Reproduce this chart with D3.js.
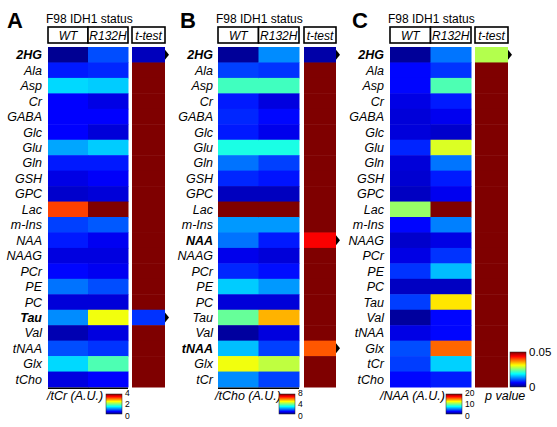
<!DOCTYPE html>
<html><head><meta charset="utf-8">
<script src="https://cdn.jsdelivr.net/npm/d3@7"></script>
<style>body{margin:0;background:#fff}svg{display:block}text{font-family:"Liberation Sans",Arial,sans-serif}</style>
</head><body><svg id="c" width="557" height="427"></svg>
<script>
// ---------- data ----------
const groups = ["WT", "R132H"];
const rowsA = ["2HG","Ala","Asp","Cr","GABA","Glc","Glu","Gln","GSH","GPC","Lac","m-Ins","NAA","NAAG","PCr","PE","PC","Tau","Val","tNAA","Glx","tCho"];
const wtA   = [0.08,0.6,1.35,0.5,0.5,0.5,1.15,0.6,0.4,0.3,3.25,0.75,0.6,0.38,0.52,0.95,0.35,1.05,0.2,0.8,1.35,0.38];
const mutA  = [0.8,0.65,1.3,0.4,0.5,0.35,1.3,0.6,0.48,0.35,4.0,0.85,0.45,0.38,0.45,0.8,0.35,2.45,0.38,0.7,1.8,0.5];
const pA    = [0.003,0.05,0.05,0.05,0.05,0.05,0.05,0.05,0.05,0.05,0.05,0.05,0.05,0.05,0.05,0.05,0.05,0.0087,0.05,0.05,0.05,0.05];

const rowsB = ["2HG","Ala","Asp","Cr","GABA","Glc","Glu","Gln","GSH","GPC","Lac","m-Ins","NAA","NAAG","PCr","PE","PC","Tau","Val","tNAA","Glx","tCr"];
const wtB   = [0.2,1.5,3.5,1.2,1.3,1.2,3.2,1.9,1.3,0.5,8.0,2.2,1.9,0.85,1.3,2.6,0.7,3.8,0.25,2.5,4.9,2.1];
const mutB  = [2.1,1.4,3.5,0.75,1.05,0.85,3.2,1.5,1.15,0.5,8.0,2.2,1.2,0.7,1.1,2.2,0.7,5.6,0.75,1.5,4.5,1.5];
const pB    = [0.002,0.05,0.05,0.05,0.05,0.05,0.05,0.05,0.05,0.05,0.05,0.05,0.044,0.05,0.05,0.05,0.05,0.05,0.05,0.0395,0.05,0.05];

const rowsC = ["2HG","Ala","Asp","Cr","GABA","Glc","Glu","Gln","GSH","GPC","Lac","m-Ins","NAAG","PCr","PE","PC","Tau","Val","tNAA","Glx","tCr","tCho"];
const wtC   = [0.5,2.6,2.6,2.0,1.75,1.8,3.2,1.75,1.6,1.3,10.5,2.6,1.5,2.0,3.5,1.3,3.7,0.6,2.0,4.0,3.7,2.6];
const mutC  = [4.8,3.5,9.0,3.0,2.2,1.5,11.8,4.8,3.0,2.2,20.0,5.0,2.0,3.5,6.2,1.3,13.0,2.6,2.6,15.5,6.6,3.0];
const pC    = [0.0275,0.05,0.05,0.05,0.05,0.05,0.05,0.05,0.05,0.05,0.05,0.05,0.05,0.05,0.05,0.05,0.05,0.05,0.05,0.05,0.05,0.05];

const ticksA = [0, 2, 4], ticksB = [0, 4, 8], ticksC = [0, 10, 20], ticksP = [0, 0.05];
const pMax = 0.05;

// ---------- layout ----------
const panels = [
  {letter:"A", lx:7,   hx0:48,  hx1:128, tx0:132, tx1:165, labR:42,  cbx:106, ux:47,  line:true,  unit:"/tCr (A.U.)",  rows:rowsA, wt:wtA, mut:mutA, p:pA, ticks:ticksA},
  {letter:"B", lx:180, hx0:218, hx1:299, tx0:304, tx1:336, labR:213, cbx:279, ux:215, line:true,  unit:"/tCho (A.U.)", rows:rowsB, wt:wtB, mut:mutB, p:pB, ticks:ticksB},
  {letter:"C", lx:352, hx0:390, hx1:471, tx0:475, tx1:508, labR:384, cbx:446, ux:380, line:false, unit:"/NAA (A.U.)",  rows:rowsC, wt:wtC, mut:mutC, p:pC, ticks:ticksC}
];
const yTop = 47, yBot = 387;

const jetStops = ["#00007f","#0000ff","#00ffff","#ffff00","#ff0000","#7f0000"];
const jetPos = [0, .125, .375, .625, .875, 1];
function jet(max){ return d3.scaleLinear().domain(jetPos.map(v=>v*max)).range(jetStops).clamp(true); }

const svg = d3.select("#c");
const defs = svg.append("defs");
const grad = defs.append("linearGradient").attr("id","jetg").attr("x1",0).attr("y1",1).attr("x2",0).attr("y2",0);
jetPos.forEach((p,i)=>grad.append("stop").attr("offset",p).attr("stop-color",jetStops[i]));

panels.forEach(P => {
  const g = svg.append("g");
  const max = d3.max(P.ticks);
  const color = jet(max), pcolor = jet(pMax);
  const y = d3.scaleBand().domain(P.rows).range([yTop, yBot]);
  const x = d3.scaleBand().domain(groups).range([P.hx0, P.hx1]);

  g.append("text").attr("x",P.lx).attr("y",28).attr("font-size",22).attr("font-weight","bold").text(P.letter);
  g.append("text").attr("x",P.hx0-2).attr("y",23).attr("font-size",12).text("F98 IDH1 status");

  groups.forEach(gr => {
    g.append("rect").attr("x",x(gr)).attr("y",27).attr("width",x.bandwidth()).attr("height",16)
      .attr("fill","#fff").attr("stroke","#000").attr("stroke-width",1.6);
    g.append("text").attr("x",x(gr)+x.bandwidth()/2).attr("y",39.5).attr("text-anchor","middle")
      .attr("font-size",12).attr("font-style","italic").text(gr);
  });
  g.append("rect").attr("x",P.tx0).attr("y",27).attr("width",P.tx1-P.tx0).attr("height",16)
    .attr("fill","#fff").attr("stroke","#000").attr("stroke-width",1.6);
  g.append("text").attr("x",(P.tx0+P.tx1)/2).attr("y",39.5).attr("text-anchor","middle")
    .attr("font-size",12).attr("font-style","italic").text("t-test");

  const vals = [P.wt, P.mut];
  groups.forEach((gr, gi) => {
    g.selectAll(null).data(P.rows).join("rect")
      .attr("x", x(gr)).attr("y", d => y(d)).attr("width", x.bandwidth()+0.5).attr("height", y.bandwidth()+0.5)
      .attr("fill", (d,i) => color(vals[gi][i]));
  });
  g.selectAll(null).data(P.rows).join("rect")
    .attr("x", P.tx0).attr("y", d => y(d)).attr("width", P.tx1-P.tx0).attr("height", y.bandwidth()+0.5)
    .attr("fill", (d,i) => pcolor(P.p[i]));

  g.selectAll(null).data(P.rows).join("text")
    .attr("x", P.labR).attr("y", d => y(d)+y.bandwidth()/2+4.5).attr("text-anchor","end")
    .attr("font-size",12.5).attr("font-style","italic")
    .attr("font-weight",(d,i)=>P.p[i]<pMax?"bold":"normal").text(d=>d);

  const sig = P.rows.filter((d,i)=>P.p[i]<pMax);
  g.selectAll(null).data(sig).join("path")
    .attr("d", d => { const cy=y(d)+y.bandwidth()/2; return `M${P.tx1},${cy-5}L${P.tx1+4},${cy}L${P.tx1},${cy+5}Z`; })
    .attr("fill","#000");

  if (P.line) g.append("line").attr("x1",P.hx0).attr("x2",P.hx1).attr("y1",yBot+1.2).attr("y2",yBot+1.2)
    .attr("stroke","#000").attr("stroke-width",1.6);

  g.append("text").attr("x",P.ux).attr("y",400).attr("font-size",12.5).attr("font-style","italic").text(P.unit);

  const cy = d3.scaleLinear().domain([0,max]).range([414,394]);
  const ty = d3.scaleLinear().domain([0,max]).range([415.5,392.5]);
  g.append("rect").attr("x",P.cbx).attr("y",394).attr("width",16).attr("height",20)
    .attr("fill","url(#jetg)").attr("stroke","#222").attr("stroke-width",0.5);
  g.selectAll(null).data(P.ticks).join("text")
    .attr("x",P.cbx+19).attr("y",d=>ty(d)+3).attr("font-size",8.5).text(d=>d);
});

const py = d3.scaleLinear().domain([0,pMax]).range([387,352]);
svg.append("rect").attr("x",510).attr("y",352).attr("width",16).attr("height",35)
  .attr("fill","url(#jetg)").attr("stroke","#222").attr("stroke-width",0.5);
svg.selectAll(null).data(ticksP).join("text")
  .attr("x",529).attr("y",d=>py(d)+4).attr("font-size",11.5).text(d=>d);
svg.append("text").attr("x",485).attr("y",400).attr("font-size",12.5).attr("font-style","italic").text("p value");
</script></body></html>
